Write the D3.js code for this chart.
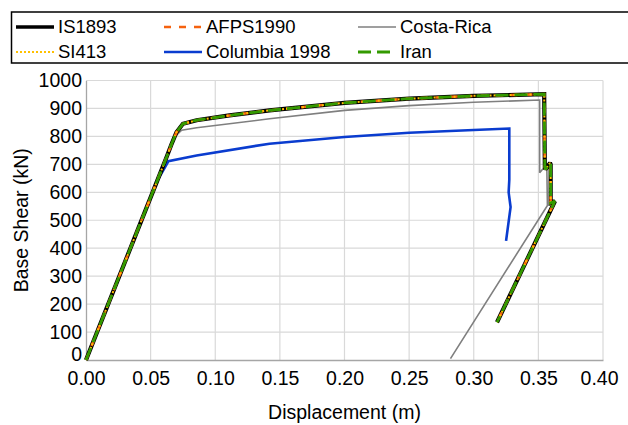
<!DOCTYPE html>
<html>
<head>
<meta charset="utf-8">
<script src="https://cdn.jsdelivr.net/npm/d3@7"></script>
<style>
  html, body { margin: 0; padding: 0; background: #fff; }
  svg { display: block; font-family: "Liberation Sans", Arial, sans-serif; }
</style>
</head>
<body>
<svg id="chart" width="628" height="425"></svg>
<script>
// Pushover curves: displacement (m) vs base shear (kN)
const xTicks = [0, 0.05, 0.10, 0.15, 0.20, 0.25, 0.30, 0.35, 0.40];
const yTicks = [0, 100, 200, 300, 400, 500, 600, 700, 800, 900, 1000];

const is1893 = [
  [0, 0], [0.055, 640], [0.062, 722], [0.066, 770], [0.070, 815], [0.075, 845], [0.0856, 858],
  [0.111, 875], [0.142, 893], [0.20, 920], [0.25, 935], [0.30, 945], [0.3545, 951],
  [0.355, 690], [0.3555, 682], [0.359, 705], [0.3595, 700], [0.3595, 562],
  [0.3628, 568], [0.318, 135]
];
const afps1990 = [
  [0, 0], [0.055, 640], [0.062, 722], [0.066, 770], [0.070, 815], [0.075, 845], [0.0856, 858],
  [0.111, 875], [0.142, 893], [0.20, 920], [0.25, 935], [0.30, 945], [0.3545, 951],
  [0.355, 690], [0.3555, 682], [0.359, 705], [0.3595, 700], [0.3595, 562],
  [0.3628, 568], [0.318, 135]
];
const si413 = [
  [0, 0], [0.055, 640], [0.062, 722], [0.066, 770], [0.070, 815], [0.075, 845], [0.0856, 858],
  [0.111, 875], [0.142, 893], [0.20, 920], [0.25, 935], [0.30, 945], [0.3545, 951],
  [0.355, 690], [0.3555, 682], [0.359, 705], [0.3595, 700], [0.3595, 562],
  [0.3628, 568], [0.318, 135]
];
const iran = [
  [0, 0], [0.055, 640], [0.062, 722], [0.066, 770], [0.070, 815], [0.075, 845], [0.0856, 858],
  [0.111, 875], [0.142, 893], [0.20, 920], [0.25, 935], [0.30, 945], [0.3545, 951],
  [0.355, 690], [0.3555, 682], [0.359, 705], [0.3595, 700], [0.3595, 562],
  [0.3628, 568], [0.318, 135]
];
const costaRica = [
  [0, 0], [0.055, 640], [0.062, 722], [0.068, 795], [0.074, 822], [0.0856, 831], [0.142, 863],
  [0.20, 893], [0.25, 910], [0.30, 922], [0.351, 930], [0.351, 670],
  [0.3565, 700], [0.357, 553], [0.282, 5]
];
const columbia1998 = [
  [0, 0], [0.055, 640], [0.0637, 711], [0.0856, 732], [0.142, 774], [0.20, 798], [0.25, 813],
  [0.30, 823], [0.3275, 828], [0.3275, 645], [0.327, 600], [0.3285, 547], [0.325, 426]
];

const series = [
  { name: "Costa-Rica",    data: costaRica,    color: "#7f7f7f", width: 1.6, dash: null },
  { name: "Columbia 1998", data: columbia1998, color: "#0a3ccf", width: 2.6, dash: null },
  { name: "IS1893",        data: is1893,       color: "#000000", width: 4.2, dash: null },
  { name: "AFPS1990",      data: afps1990,     color: "#f5620f", width: 2.6, dash: "7,8" },
  { name: "SI413",         data: si413,        color: "#ffc000", width: 2.0, dash: "2,2" },
  { name: "Iran",          data: iran,         color: "#339a00", width: 2.8, dash: "13,6" }
];

const svg = d3.select("#chart");
const margin = { left: 86, right: 25, top: 80.5, bottom: 65 };
const W = 628, H = 425;

const x = d3.scaleLinear().domain([0, 0.40]).range([margin.left, W - margin.right]);
const y = d3.scaleLinear().domain([0, 1000]).range([H - margin.bottom, margin.top]);

// gridlines
const grid = svg.append("g");
grid.selectAll("line.v").data(xTicks.slice(1)).join("line")
  .attr("x1", d => x(d)).attr("x2", d => x(d))
  .attr("y1", y(0)).attr("y2", y(1000))
  .attr("stroke", "#d9d9d9").attr("stroke-width", 1.2);
grid.selectAll("line.h").data(yTicks.slice(1)).join("line")
  .attr("x1", x(0)).attr("x2", x(0.40))
  .attr("y1", d => y(d)).attr("y2", d => y(d))
  .attr("stroke", "#d9d9d9").attr("stroke-width", 1.2);

// axes
const xAxis = svg.append("g").attr("transform", `translate(0,${y(0)})`)
  .call(d3.axisBottom(x).tickValues(xTicks).tickFormat(d3.format(".2f")).tickSize(0).tickPadding(11));
const yAxis = svg.append("g").attr("transform", `translate(${x(0)},0)`)
  .call(d3.axisLeft(y).tickValues(yTicks).tickFormat(d3.format("d")).tickSize(0).tickPadding(4));
[xAxis, yAxis].forEach(a => {
  a.select(".domain").attr("stroke", "#a6a6a6").attr("stroke-width", 1.3);
  a.selectAll("text").attr("font-size", 19.5).attr("fill", "#000")
    .attr("font-family", "'Liberation Sans', Arial, sans-serif");
});
yAxis.selectAll(".tick text").filter(d => d === 0).attr("dy", "0.05em");
xAxis.selectAll(".tick text").filter(d => d === 0.40).attr("dx", -4);

// curves
const line = d3.line().x(d => x(d[0])).y(d => y(d[1]));
svg.append("g").selectAll("path").data(series).join("path")
  .attr("d", d => line(d.data))
  .attr("fill", "none")
  .attr("stroke", d => d.color)
  .attr("stroke-width", d => d.width)
  .attr("stroke-dasharray", d => d.dash)
  .attr("stroke-linejoin", "miter")
  .attr("stroke-miterlimit", 2);

// axis titles
svg.append("text").attr("x", (x(0) + x(0.40)) / 2).attr("y", 419)
  .attr("text-anchor", "middle").attr("font-size", 19.5).text("Displacement (m)");
svg.append("text").attr("transform", `translate(28,${(y(0) + y(1000)) / 2}) rotate(-90)`)
  .attr("text-anchor", "middle").attr("font-size", 19.5).text("Base Shear (kN)");

// legend
const legend = svg.append("g");
legend.append("rect").attr("x", 11.5).attr("y", 12).attr("width", 640).attr("height", 51)
  .attr("fill", "#fff").attr("stroke", "#000").attr("stroke-width", 1.5);
const legendOrder = ["IS1893", "AFPS1990", "Costa-Rica", "SI413", "Columbia 1998", "Iran"];
const colX = [16, 164, 358];
const rowY = [27, 52];
legendOrder.forEach((name, i) => {
  const s = series.find(d => d.name === name);
  const cx = colX[i % 3], cy = rowY[Math.floor(i / 3)];
  legend.append("line").attr("x1", cx).attr("x2", cx + 38).attr("y1", cy).attr("y2", cy)
    .attr("stroke", s.color).attr("stroke-width", name === "IS1893" ? 3.5 : s.width)
    .attr("stroke-dasharray", s.dash);
  legend.append("text").attr("x", cx + 42).attr("y", cy).attr("dy", "0.35em")
    .attr("font-size", 18.5).text(name);
});
</script>
</body>
</html>
